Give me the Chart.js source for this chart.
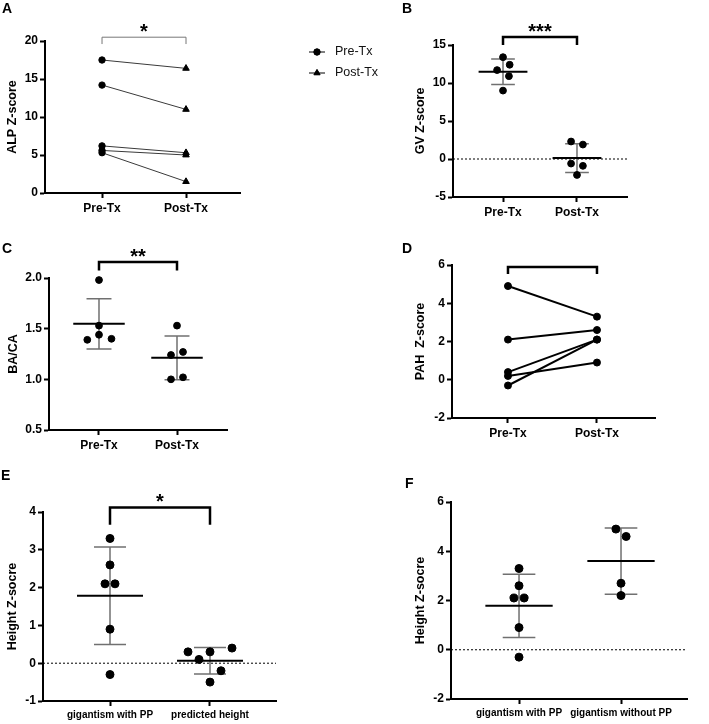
<!DOCTYPE html>
<html>
<head>
<meta charset="utf-8">
<script src="https://cdn.jsdelivr.net/npm/chart.js@4.4.0/dist/chart.umd.min.js"></script>
<style>
  html, body { margin: 0; padding: 0; background: #fff; }
  body { width: 709px; height: 724px; position: relative; overflow: hidden; font-family: "Liberation Sans", Arial, sans-serif; }
  canvas { position: absolute; }
  .tag { position: absolute; font-weight: bold; font-size: 14px; line-height: 14px; color: #000; z-index: 5; }
</style>
</head>
<body>
<canvas id="chartA"></canvas>
<canvas id="chartB"></canvas>
<canvas id="chartC"></canvas>
<canvas id="chartD"></canvas>
<canvas id="chartE"></canvas>
<canvas id="chartF"></canvas>
<div class="tag" style="left:2px;top:1px">A</div>
<div class="tag" style="left:402px;top:1px">B</div>
<div class="tag" style="left:2px;top:241px">C</div>
<div class="tag" style="left:402px;top:241px">D</div>
<div class="tag" style="left:1px;top:468px">E</div>
<div class="tag" style="left:405px;top:476px">F</div>
<script>
const FONT = '"Liberation Sans", Arial, sans-serif';

// category labels
const groupsTx = ['Pre-Tx', 'Post-Tx'];
const groupsE = ['gigantism with PP', 'predicted height'];
const groupsF = ['gigantism with PP', 'gigantism without PP'];

// A - ALP Z-score (paired, pre -> post)
const alpPre = [17.5, 14.2, 6.2, 5.6, 5.3];
const alpPost = [16.4, 11.0, 5.3, 5.0, 1.5];

// B - GV Z-score
const gvPre = [13.4, 12.4, 11.7, 10.9, 9.0];
const gvPost = [2.3, 1.9, -0.6, -0.9, -2.1];

// C - BA/CA
const baPre = [1.98, 1.53, 1.44, 1.39, 1.40];
const baPost = [1.53, 1.24, 1.27, 1.00, 1.02];

// D - PAH Z-score (paired)
const pahPre = [4.9, 2.1, 0.4, 0.2, -0.3];
const pahPost = [3.3, 2.6, 2.1, 0.9, 2.1];

// E / F - Height Z-score
const heightPP = [3.3, 2.6, 2.1, 2.1, 0.9, -0.3];
const heightPredicted = [0.3, 0.1, 0.3, 0.4, -0.2, -0.5];
const heightNoPP = [4.9, 4.6, 2.7, 2.2];

// sideways spread of the dots so they don't overlap (x units)
const gvPreSpread = [0, 0.09, -0.08, 0.08, 0];
const gvPostSpread = [-0.08, 0.08, -0.08, 0.08, 0];
const baPreSpread = [0, 0, 0, -0.15, 0.16];
const baPostSpread = [0, -0.077, 0.077, -0.077, 0.077];
const ppSpread = [0, 0, -0.05, 0.05, 0, 0];
const predSpread = [-0.22, -0.11, 0, 0.22, 0.11, 0];
const noPPSpread = [-0.05, 0.05, 0, 0];

function mean(a) { return a.reduce((s, v) => s + v, 0) / a.length; }
function sd(a) {
    const m = mean(a);
    return Math.sqrt(a.reduce((s, v) => s + (v - m) * (v - m), 0) / (a.length - 1));
}

function dots(values, x, spread, r) {
    return {
        data: values.map((v, i) => ({ x: x + (spread ? spread[i] : 0), y: v })),
        backgroundColor: '#000', borderColor: '#000',
        pointRadius: r, pointHoverRadius: r, order: 0, clip: false
    };
}

// mean line + SD whiskers for one group
function meanSd(values, x) {
    const m = mean(values), s = sd(values);
    return [
        { data: [{ x: x - 0.33, y: m }, { x: x + 0.33, y: m }], showLine: true,
          borderColor: '#000', borderWidth: 2, pointRadius: 0, order: 1, clip: false },
        { data: [
            { x: x - 0.16, y: m + s }, { x: x + 0.16, y: m + s }, { x: x, y: null },
            { x: x, y: m + s }, { x: x, y: m - s }, { x: x, y: null },
            { x: x - 0.16, y: m - s }, { x: x + 0.16, y: m - s }],
          showLine: true, spanGaps: false, borderColor: '#707070', borderWidth: 1.5,
          pointRadius: 0, order: 2, clip: false }
    ];
}

function pairs(pre, post, color, width, styles, radii) {
    return pre.map((v, i) => ({
        data: [{ x: 1, y: v }, { x: 2, y: post[i] }],
        showLine: true, borderColor: color, borderWidth: width,
        pointStyle: styles, pointRadius: radii, pointHoverRadius: radii,
        pointBackgroundColor: '#000', pointBorderColor: '#000', pointBorderWidth: 1,
        clip: false
    }));
}

// zero line, significance bracket and the legend of panel A
const extras = {
    id: 'extras',
    beforeDatasetsDraw(chart, args, o) {
        if (!o.zero) return;
        const { ctx, chartArea: a } = chart;
        const py = chart.scales.y.getPixelForValue(0);
        ctx.save();
        ctx.setLineDash([2, 2]);
        ctx.strokeStyle = '#000';
        ctx.lineWidth = 1;
        ctx.beginPath();
        ctx.moveTo(a.left, py);
        ctx.lineTo(a.right, py);
        ctx.stroke();
        ctx.restore();
    },
    afterDraw(chart, args, o) {
        const { ctx, chartArea: a } = chart;
        if (o.bracket) {
            const b = o.bracket, xs = chart.scales.x, ys = chart.scales.y;
            const x1 = xs.getPixelForValue(1), x2 = xs.getPixelForValue(2);
            const yt = ys.getPixelForValue(b.top), ye = ys.getPixelForValue(b.end);
            ctx.save();
            ctx.strokeStyle = b.color;
            ctx.lineWidth = b.width;
            ctx.beginPath();
            ctx.moveTo(x1, ye);
            ctx.lineTo(x1, yt);
            ctx.lineTo(x2, yt);
            ctx.lineTo(x2, ye);
            ctx.stroke();
            if (b.label) {
                ctx.fillStyle = '#000';
                ctx.font = 'bold 20px ' + FONT;
                ctx.textAlign = 'center';
                ctx.textBaseline = 'alphabetic';
                ctx.fillText(b.label, (x1 + x2) / 2, yt + 1);
            }
            ctx.restore();
        }
        if (o.legend) {
            const lx = a.right + 77;
            o.legend.forEach((item, i) => {
                const ly = a.top + 11 + i * 21;
                ctx.save();
                ctx.strokeStyle = '#000';
                ctx.lineWidth = 1;
                ctx.beginPath();
                ctx.moveTo(lx - 8, ly);
                ctx.lineTo(lx + 8, ly);
                ctx.stroke();
                ctx.fillStyle = '#000';
                Chart.helpers.drawPoint(ctx, { pointStyle: item.style, radius: item.r, borderWidth: 1 }, lx, ly);
                ctx.fill();
                ctx.font = '12.5px ' + FONT;
                ctx.fillStyle = '#111';
                ctx.textBaseline = 'middle';
                ctx.fillText(item.text, lx + 18, ly);
                ctx.restore();
            });
        }
    }
};

function axes(o) {
    const tickFont = { family: FONT, weight: 'bold', size: 12 };
    const grid = { drawOnChartArea: false, tickLength: 5, tickWidth: 2, tickColor: '#000', color: '#000' };
    const border = { color: '#000', width: 2 };
    return {
        x: {
            type: 'linear', min: o.xmin, max: o.xmax,
            afterBuildTicks: s => { s.ticks = [{ value: 1 }, { value: 2 }]; },
            afterFit: s => { s.height = o.xh; },
            ticks: {
                callback: v => o.labels[v - 1], color: '#000',
                font: { family: FONT, weight: 'bold', size: o.xFont || 12 },
                padding: 3, maxRotation: 0, autoSkip: false
            },
            grid: grid, border: border
        },
        y: {
            min: o.ymin, max: o.ymax,
            afterFit: s => { s.width = o.yw; },
            ticks: { stepSize: o.step, color: '#000', font: tickFont, padding: 2, callback: o.yfmt || (v => v) },
            title: { display: true, text: o.title, color: '#000',
                     font: { family: FONT, weight: 'bold', size: 12.5 }, padding: { top: 1, bottom: 0 } },
            grid: grid, border: border
        }
    };
}

// box: wanted plot area on the page plus room for axes / annotations
function makeChart(id, box, datasets, scaleOpts, extraOpts) {
    const cv = document.getElementById(id);
    const left = box.l - box.yw, top = box.t - box.pt;
    cv.width = box.r + box.pr - left;
    cv.height = box.b + box.xh - top;
    cv.style.left = left + 'px';
    cv.style.top = top + 'px';
    scaleOpts.yw = box.yw;
    scaleOpts.xh = box.xh;
    return new Chart(cv, {
        type: 'scatter',
        data: { datasets: datasets },
        options: {
            responsive: false,
            animation: false,
            events: [],
            layout: { padding: { top: box.pt, right: box.pr, bottom: 0, left: 0 } },
            plugins: { legend: { display: false }, tooltip: { enabled: false }, extras: extraOpts },
            scales: axes(scaleOpts)
        },
        plugins: [extras]
    });
}

// A
makeChart('chartA', { l: 45, t: 41, r: 240, b: 193, yw: 41, pt: 40, pr: 160, xh: 30 },
    pairs(alpPre, alpPost, '#3a3a3a', 1, ['circle', 'triangle'], [3.2, 3.8]),
    { xmin: 0.321, xmax: 2.643, ymin: 0, ymax: 20, step: 5, labels: groupsTx, title: 'ALP Z-score' },
    { bracket: { top: 20.5, end: 19.6, color: '#777', width: 1, label: '*' },
      legend: [{ text: 'Pre-Tx', style: 'circle', r: 3.2 }, { text: 'Post-Tx', style: 'triangle', r: 3.6 }] });

// B
makeChart('chartB', { l: 453, t: 45, r: 627, b: 197, yw: 41, pt: 40, pr: 20, xh: 30 },
    [dots(gvPre, 1, gvPreSpread, 3.4), dots(gvPost, 2, gvPostSpread, 3.4),
     ...meanSd(gvPre, 1), ...meanSd(gvPost, 2)],
    { xmin: 0.324, xmax: 2.676, ymin: -5, ymax: 15, step: 5, labels: groupsTx, title: 'GV Z-score' },
    { zero: true, bracket: { top: 16.05, end: 15.0, color: '#000', width: 2.5, label: '***' } });

// C
makeChart('chartC', { l: 49, t: 278, r: 227, b: 430, yw: 44, pt: 40, pr: 20, xh: 30 },
    [dots(baPre, 1, baPreSpread, 3.4), dots(baPost, 2, baPostSpread, 3.4),
     ...meanSd(baPre, 1), ...meanSd(baPost, 2)],
    { xmin: 0.359, xmax: 2.641, ymin: 0.5, ymax: 2.0, step: 0.5, labels: groupsTx, title: 'BA/CA',
      yfmt: v => v.toFixed(1) },
    { bracket: { top: 2.158, end: 2.075, color: '#000', width: 2.5, label: '**' } });

// D
makeChart('chartD', { l: 452, t: 265, r: 655, b: 418, yw: 40, pt: 30, pr: 20, xh: 30 },
    pairs(pahPre, pahPost, '#000', 2, 'circle', 3.5),
    { xmin: 0.371, xmax: 2.652, ymin: -2, ymax: 6, step: 2, labels: groupsTx, title: 'PAH  Z-score' },
    { bracket: { top: 5.9, end: 5.53, color: '#000', width: 2.5, label: '' } });

// E
makeChart('chartE', { l: 43, t: 512, r: 276, b: 701, yw: 39, pt: 40, pr: 20, xh: 23 },
    [dots(heightPP, 1, ppSpread, 4), dots(heightPredicted, 2, predSpread, 4),
     ...meanSd(heightPP, 1), ...meanSd(heightPredicted, 2)],
    { xmin: 0.33, xmax: 2.66, ymin: -1, ymax: 4, step: 1, labels: groupsE, title: 'Height Z-socre', xFont: 10 },
    { zero: true, bracket: { top: 4.12, end: 3.66, color: '#000', width: 2.5, label: '*' } });

// F
makeChart('chartF', { l: 451, t: 502, r: 687, b: 699, yw: 39, pt: 30, pr: 15, xh: 25 },
    [dots(heightPP, 1, ppSpread, 4), dots(heightNoPP, 2, noPPSpread, 4),
     ...meanSd(heightPP, 1), ...meanSd(heightNoPP, 2)],
    { xmin: 0.333, xmax: 2.647, ymin: -2, ymax: 6, step: 2, labels: groupsF, title: 'Height Z-socre', xFont: 10 },
    { zero: true });
</script>
</body>
</html>
